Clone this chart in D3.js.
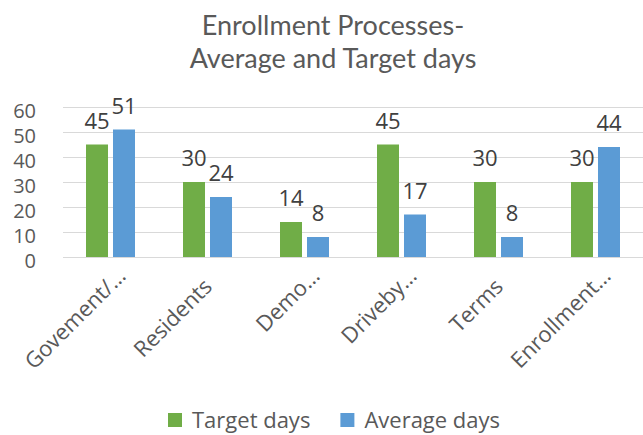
<!DOCTYPE html>
<html lang="en">
  <head>
    <meta charset="utf-8">
    <title>Enrollment Processes - Average and Target days</title>
    <script src="https://d3js.org/d3.v7.min.js"></script>
    <style type="text/css">
      body {
        margin: 0;
        background-color: #FFFFFF;
        font-family: 'Open Sans', sans-serif;
      }
      .grid line {
        stroke: #D9D9D9;
        stroke-width: 1;
      }
      .grid path, .x-axis path, .y-axis path {
        stroke-width: 0;
      }
      .x-axis text, .y-axis text {
        fill: #595959;
        font-family: 'Open Sans', sans-serif;
      }
      .value {
        fill: #404040;
        font-size: 22px;
        text-anchor: middle;
      }
      .title {
        fill: #595959;
        font-family: Lato, sans-serif;
        font-size: 27px;
        text-anchor: middle;
      }
      .legend text {
        fill: #595959;
        font-size: 22px;
      }
    </style>
  </head>
  <body>
  </body>
  <script type="text/javascript">
    // Data
    var categories = ["Govement/\u2026", "Residents", "Demo\u2026", "Driveby\u2026", "Terms", "Enrollment\u2026"];
    var targetDays = [45, 30, 14, 45, 30, 30];
    var averageDays = [51, 24, 8, 17, 8, 44];
    var seriesNames = ["Target days", "Average days"];
    var seriesColors = ["#70AD47", "#5B9BD5"];
    var yTicks = [0, 10, 20, 30, 40, 50, 60];
    var titleLines = ["Enrollment Processes-", "Average and Target days"];

    var width = 643,
        height = 435;

    var plot = {left: 62, right: 644, top: 107, bottom: 257};

    var series = [targetDays, averageDays];

    var svg = d3.select("body").append("svg")
        .attr("width", width)
        .attr("height", height);

    var x0 = d3.scaleBand()
        .domain(categories)
        .range([plot.left, plot.right])
        .padding(0);

    var x1 = d3.scaleBand()
        .domain(seriesNames)
        .range([0, 49])
        .paddingInner(0.185);

    var groupOffset = (x0.bandwidth() - 49) / 2;

    var y = d3.scaleLinear()
        .domain([0, 60])
        .range([plot.bottom, plot.top]);

    // title
    svg.selectAll(".title")
        .data(titleLines)
      .enter().append("text")
        .attr("class", "title")
        .attr("x", 333)
        .attr("y", function(d, i) { return 35 + i * 33; })
        .text(function(d) { return d; });

    // gridlines
    svg.append("g")
        .attr("class", "grid")
        .attr("transform", "translate(" + (plot.left + 1) + ",0)")
        .call(d3.axisLeft(y)
            .tickValues(yTicks)
            .tickSize(-(plot.right - plot.left))
            .tickFormat(""));

    // y axis labels
    svg.append("g")
        .attr("class", "y-axis")
        .attr("transform", "translate(36,0)")
        .call(d3.axisLeft(y).tickValues(yTicks).tickSize(0).tickPadding(0))
      .selectAll("text")
        .attr("font-size", 20)
        .attr("dy", "0.52em");

    // bars
    var groups = svg.selectAll(".group")
        .data(categories)
      .enter().append("g")
        .attr("class", "group")
        .attr("transform", function(d) { return "translate(" + (x0(d) + groupOffset) + ",0)"; });

    groups.selectAll("rect")
        .data(function(d, i) {
          return seriesNames.map(function(s, j) { return {name: s, value: series[j][i], color: seriesColors[j]}; });
        })
      .enter().append("rect")
        .attr("x", function(d) { return x1(d.name); })
        .attr("y", function(d) { return y(d.value); })
        .attr("width", x1.bandwidth())
        .attr("height", function(d) { return y(0) - y(d.value); })
        .attr("fill", function(d) { return d.color; });

    groups.selectAll(".value")
        .data(function(d, i) {
          return seriesNames.map(function(s, j) { return {name: s, value: series[j][i]}; });
        })
      .enter().append("text")
        .attr("class", "value")
        .attr("x", function(d) { return x1(d.name) + x1.bandwidth() / 2; })
        .attr("y", function(d) { return y(d.value) - 16; })
        .text(function(d) { return d.value; });

    // x axis (rotated labels)
    svg.append("g")
        .attr("class", "x-axis")
        .attr("transform", "translate(0," + plot.bottom + ")")
        .call(d3.axisBottom(x0).tickSize(0).tickPadding(0))
      .selectAll("text")
        .attr("font-size", 22)
        .style("text-anchor", "end")
        .attr("dy", 0)
        .attr("transform", "translate(6,31) rotate(-45)")
        .attr("dx", function(d) { return d.slice(-1) === "\u2026" ? 15 : 0; });

    // legend
    var legend = svg.append("g")
        .attr("class", "legend");

    var lx = 168;
    seriesNames.forEach(function(name, i) {
      legend.append("rect")
          .attr("x", lx)
          .attr("y", 413)
          .attr("width", 14)
          .attr("height", 14)
          .attr("fill", seriesColors[i]);
      var t = legend.append("text")
          .attr("x", lx + 24)
          .attr("y", 428)
          .text(name);
      lx = lx + 24 + t.node().getComputedTextLength() + 30;
    });

  </script>
</html>
